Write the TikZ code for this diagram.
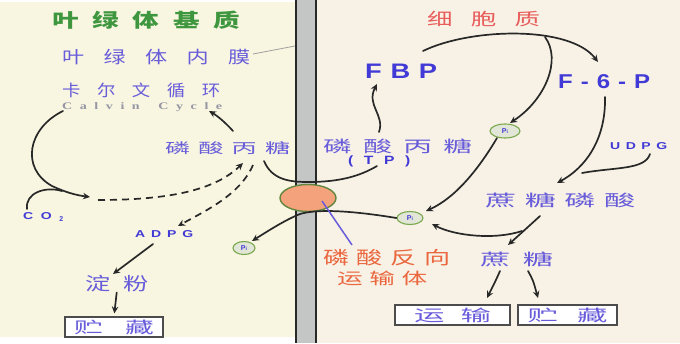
\documentclass[tikz,border=0pt]{standalone}
\usepackage{fontspec}
\setmainfont{Liberation Sans}
\newfontfamily\cjk{Noto Sans CJK SC}
\newfontfamily\serifcal{Liberation Serif}
\usetikzlibrary{arrows.meta,shapes.geometric}

\definecolor{leftbg}{RGB}{248,246,224}
\definecolor{rightbg}{RGB}{247,242,229}
\definecolor{membranefill}{RGB}{196,198,198}
\definecolor{titlegreen}{RGB}{62,150,62}
\definecolor{titlered}{RGB}{232,92,92}
\definecolor{labelblue}{RGB}{104,92,218}
\definecolor{termblue}{RGB}{66,58,214}
\definecolor{carrierred}{RGB}{234,102,62}
\definecolor{carrierfill}{RGB}{244,162,124}
\definecolor{ringgreen}{RGB}{122,168,78}
\definecolor{ringfill}{RGB}{226,230,214}
\definecolor{inklines}{RGB}{40,40,40}
\definecolor{cyclegray}{RGB}{150,150,165}

\newcommand\fsz[1]{\fontsize{#1}{#1}\selectfont}
% spread the glyphs of #3 over the width #1, each glyph widened by #2
\makeatletter
\newcommand\spreadtext[3]{\makebox[#1][s]{\def\sp@first{1}%
  \@tfor\sp@c:=#3\do{\ifx\sp@first\@empty\hfill\fi\def\sp@first{}%
  \scalebox{#2}[1]{\sp@c}}}}
\makeatother

\tikzset{
  lbl/.style={inner sep=0pt, anchor=west, text=labelblue},
  term/.style={inner sep=0pt, anchor=west, text=termblue},
  flow/.style={draw=inklines, line width=1.7pt, line cap=round,
    -{Stealth[length=7pt,width=6.5pt]}},
  bare/.style={draw=inklines, line width=1.7pt, line cap=round},
  dashflow/.style={flow, line cap=butt, dash pattern=on 7pt off 5pt},
  pinode/.style={ellipse, draw=ringgreen, line width=1.1pt, fill=ringfill,
    inner sep=0pt, text=termblue, font=\bfseries\fsz{7}},
  storebox/.style={draw=black!70, line width=1.1pt, fill=white,
    inner sep=0pt, text=labelblue, font=\cjk\fsz{16}},
}

\begin{document}
\begin{tikzpicture}[x=1pt,y=-1pt]
\useasboundingbox (0,0) rectangle (680,343);

% two compartments
\fill[leftbg] (0,0) rectangle (296,343);
\fill[rightbg] (316,0) rectangle (680,343);
\fill[white] (0,0) rectangle (296,2);
\fill[white] (0,337) rectangle (296,343);

% chloroplast inner membrane
\fill[membranefill] (296,0) rectangle (316,343);
\draw[inklines, line width=1.7pt] (296,0) -- (296,343);
\draw[inklines, line width=1.7pt] (316,0) -- (316,343);

% compartment titles
\node[lbl, text=titlegreen, font=\cjk\bfseries\fsz{19}] (stroma) at (52,20)
  {\spreadtext{188pt}{1.4}{叶绿体基质}};
\node[lbl, text=titlered, font=\cjk\fsz{17}] (cytosol) at (427,19)
  {\spreadtext{113pt}{1.5}{细胞质}};

% stroma side labels
\node[lbl, font=\cjk\fsz{17}] (innermem) at (62,57)
  {\spreadtext{188pt}{1.3}{叶绿体内膜}};
\coordinate (memtouch) at (295,46);
\coordinate (memfrom) at (253,54);
\draw[gray!75, line width=0.8pt] (memfrom) -- (memtouch);

\node[lbl, font=\cjk\fsz{16}] (calvin) at (62,90)
  {\spreadtext{158pt}{1.15}{卡尔文循环}};
\node[lbl, text=cyclegray, font=\serifcal\bfseries\fsz{10}] (calvinen) at (62,107)
  {\spreadtext{160pt}{1.4}{Calvin~Cycle}};

\node[lbl, font=\cjk\fsz{14}] (tpl) at (165,148)
  {\spreadtext{125pt}{1.8}{磷酸丙糖}};
\node[term, font=\bfseries\fsz{10}] (co2) at (23,217)
  {\makebox[40pt][s]{\scalebox{1.4}[1]{C}\hfill\scalebox{1.4}[1]{O}\hfill\raisebox{-2.5pt}{\fsz{7}2}}};
\node[term, font=\bfseries\fsz{10}] (adpg) at (135,234)
  {\spreadtext{58pt}{1.4}{ADPG}};
\node[lbl, font=\cjk\fsz{18}] (starch) at (85,284)
  {\spreadtext{63pt}{1.4}{淀粉}};
\node[storebox, minimum width=98pt, minimum height=20pt] (storeL) at (114,327)
  {\spreadtext{80pt}{1.8}{贮藏}};
\node[pinode, minimum width=22pt, minimum height=13pt] (pil) at (244,248) {P\fsz{5}i};

% cytosol side labels
\node[term, font=\bfseries\fsz{21}] (fbp) at (365,71)
  {\spreadtext{72pt}{1.3}{FBP}};
\node[term, font=\bfseries\fsz{20}] (f6p) at (558,82)
  {\spreadtext{92pt}{1.2}{F-6-P}};
\node[lbl, font=\cjk\fsz{16}] (tpr) at (323,146)
  {\spreadtext{149pt}{1.8}{磷酸丙糖}};
\node[term, font=\bfseries\fsz{12}] (tpabbr) at (348,161)
  {\spreadtext{62pt}{1.3}{(TP)}};
\node[term, font=\bfseries\fsz{10}] (udpg) at (610,146)
  {\spreadtext{57pt}{1.4}{UDPG}};
\node[lbl, font=\cjk\fsz{16}] (sucp) at (485,200)
  {\spreadtext{150pt}{1.95}{蔗糖磷酸}};
\node[lbl, font=\cjk\fsz{16}] (sucrose) at (480,259)
  {\spreadtext{73pt}{1.9}{蔗糖}};
\node[lbl, text=carrierred, font=\cjk\fsz{18}] (carrier1) at (323,258)
  {\spreadtext{127pt}{1.45}{磷酸反向}};
\node[lbl, text=carrierred, font=\cjk\fsz{16}] (carrier2) at (337,278)
  {\spreadtext{90pt}{1.6}{运输体}};
\node[storebox, minimum width=115pt, minimum height=20pt] (transport) at (452.5,315)
  {\spreadtext{77pt}{1.9}{运输}};
\node[storebox, minimum width=99pt, minimum height=20pt] (storeR) at (567.5,315)
  {\spreadtext{80pt}{1.9}{贮藏}};
\node[pinode, minimum width=30pt, minimum height=14pt] (pitop) at (505,131) {P\fsz{5}i};
\node[pinode, minimum width=26pt, minimum height=13pt] (pir) at (410,218) {P\fsz{5}i};

% phosphate translocator
\node[ellipse, draw=ringgreen!80!black, line width=1.4pt, fill=carrierfill,
  minimum width=56pt, minimum height=27pt, inner sep=0pt] (antiport) at (308,198) {};

% named ends of the connectors
\coordinate (cctop) at (63,111);
\coordinate (ccout) at (90,197);
\coordinate (co2start) at (27,209);
\coordinate (co2join) at (62,191);
\coordinate (dashstart) at (98,200);
\coordinate (tplin) at (243,163);
\coordinate (tplout) at (253,165);
\coordinate (adpgin) at (178,226);
\coordinate (tplup) at (233,131);
\coordinate (ccin) at (209,111);
\coordinate (adpgout) at (153,244);
\coordinate (starchin) at (113,274);
\coordinate (tplright) at (264,161);
\coordinate (tpend) at (377,166);
\coordinate (tpup) at (379,132);
\coordinate (fbpin) at (377,84);
\coordinate (fbpout) at (423,51);
\coordinate (f6pin) at (598,62);
\coordinate (arcbranch) at (545,37);
\coordinate (pitopin) at (510,123);
\coordinate (f6pout) at (605,97);
\coordinate (sucpin) at (557,183);
\coordinate (udpgout) at (650,154);
\coordinate (udpgjoin) at (582,173);
\coordinate (pitopout) at (497,138);
\coordinate (pirin) at (426,211);
\coordinate (sucpout) at (540,216);
\coordinate (sucrosein) at (508,245);
\coordinate (pibranch) at (522,231);
\coordinate (pirin2) at (432,224);
\coordinate (pilin) at (252,241);
\coordinate (sucout1) at (500,271);
\coordinate (sucout2) at (528,271);
\coordinate (transportin) at (487,298);
\coordinate (storeRin) at (538,298);
\coordinate (carrierfrom) at (352,245);
\coordinate (carrierto) at (322,201);

% Calvin cycle and the stroma branch
\draw[flow] (cctop) .. controls (28,128) and (20,168) .. (52,186)
  .. controls (65,192) and (75,195) .. (ccout);
\draw[bare] (co2start) .. controls (25,193) and (45,186) .. (co2join);
\draw[dashflow] (dashstart) .. controls (170,200) and (215,190) .. (tplin);
\draw[dashflow] (tplout) .. controls (240,195) and (205,211) .. (adpgin);
\draw[flow] (tplup) .. controls (224,121) and (216,115) .. (ccin);
\draw[flow] (adpgout) -- (starchin);
\draw[flow, shorten >=3pt] (starch.south) -- (storeL.north);

% exchange through the translocator
\draw[bare] (tplright) .. controls (272,180) and (290,182) .. (308,182)
  .. controls (340,182) and (360,176) .. (tpend);
\draw[flow] (pir.west) .. controls (360,212) and (320,208) .. (300,214)
  .. controls (285,220) and (268,231) .. (pilin);
\draw[labelblue, line width=1.5pt] (carrierfrom) -- (carrierto);

% sucrose synthesis in the cytosol
\draw[flow] (tpup) .. controls (385,115) and (366,105) .. (fbpin);
\draw[flow] (fbpout) .. controls (470,28) and (570,25) .. (f6pin);
\draw[flow] (arcbranch) .. controls (562,60) and (545,100) .. (pitopin);
\draw[flow] (pitopout) .. controls (478,170) and (455,198) .. (pirin);
\draw[flow] (f6pout) .. controls (606,140) and (585,168) .. (sucpin);
\draw[bare] (udpgout) .. controls (645,170) and (615,167) .. (udpgjoin);
\draw[flow] (sucpout) .. controls (528,227) and (518,236) .. (sucrosein);
\draw[flow] (pibranch) .. controls (495,240) and (455,236) .. (pirin2);
\draw[flow] (sucout1) .. controls (496,280) .. (transportin);
\draw[flow] (sucout2) .. controls (533,280) .. (storeRin);
\end{tikzpicture}
\end{document}
